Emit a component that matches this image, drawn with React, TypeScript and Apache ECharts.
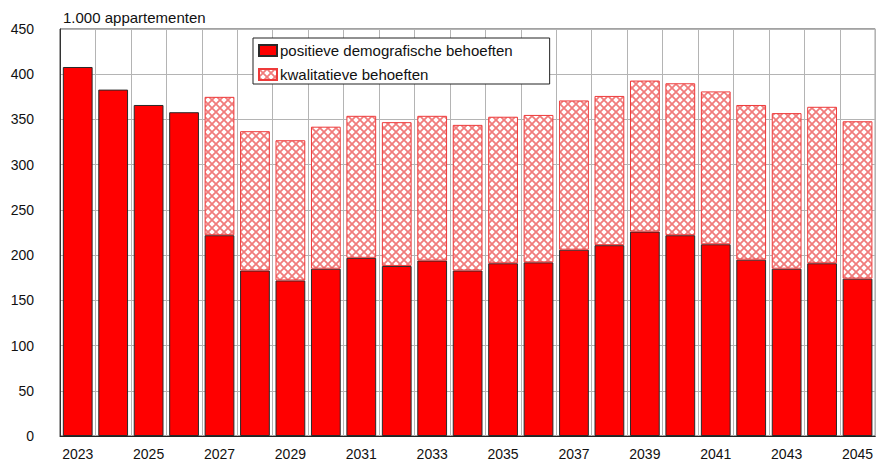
import React, { useEffect, useRef } from "react";
import * as echarts from "echarts";

const years = [
  "2023", "2024", "2025", "2026", "2027", "2028", "2029", "2030", "2031", "2032", "2033", "2034",
  "2035", "2036", "2037", "2038", "2039", "2040", "2041", "2042", "2043", "2044", "2045",
];

const positiveDemographic = [
  408, 383, 366, 358, 222, 183, 172, 185, 197, 188, 194, 183,
  191, 192, 206, 211, 226, 222, 212, 195, 185, 191, 174,
];

const qualitative: (number | string)[] = [
  "-", "-", "-", "-", 153, 154, 155, 157, 157, 159, 160, 161,
  162, 163, 165, 165, 167, 168, 169, 171, 172, 173, 174,
];

const yTicks = { min: 0, max: 450, interval: 50 };

const titleText = "1.000 appartementen";
const seriesNames = ["positieve demografische behoeften", "kwalitatieve behoeften"];

const FONT = "'Liberation Sans', Arial, Helvetica, sans-serif";

function makeHatch() {
  const size = 8;
  const c = document.createElement("canvas");
  c.width = size;
  c.height = size;
  const ctx = c.getContext("2d")!;
  ctx.fillStyle = "#ffffff";
  ctx.fillRect(0, 0, size, size);
  ctx.strokeStyle = "#f07c7c";
  ctx.lineWidth = 1.8;
  ctx.beginPath();
  ctx.moveTo(-1, -1);
  ctx.lineTo(size + 1, size + 1);
  ctx.moveTo(size + 1, -1);
  ctx.lineTo(-1, size + 1);
  ctx.stroke();
  return c;
}

export default function App() {
  const ref = useRef<HTMLDivElement>(null);

  useEffect(() => {
    if (!ref.current) return;
    const chart = echarts.init(ref.current, undefined, { renderer: "svg" });
    const hatch = makeHatch();
    const pattern: any = {
      image: hatch,
      repeat: "repeat",
      imageWidth: 8,
      imageHeight: 8,
    };

    chart.setOption({
      animation: false,
      backgroundColor: "#ffffff",
      textStyle: { fontFamily: FONT },
      title: {
        text: titleText,
        left: 63,
        top: 10,
        padding: 0,
        textStyle: { fontFamily: FONT, fontSize: 15, fontWeight: "normal", color: "#111" },
      },
      legend: {
        orient: "vertical",
        left: 253,
        top: 38,
        padding: [5, 37, 2, 5],
        itemGap: 9,
        itemWidth: 18,
        itemHeight: 11,
        icon: "rect",
        borderColor: "#222",
        borderWidth: 1,
        borderRadius: 0,
        backgroundColor: "#ffffff",
        textStyle: { fontFamily: FONT, fontSize: 15, color: "#111", padding: [0, 0, 0, -2] },
        data: seriesNames,
        selectedMode: false,
      },
      grid: {
        left: 60,
        top: 29,
        width: 820,
        height: 408,
        show: true,
        borderColor: "#444",
        borderWidth: 1,
        backgroundColor: "transparent",
      },
      xAxis: {
        type: "category",
        data: years,
        boundaryGap: true,
        axisTick: { show: false },
        axisLine: { show: true, lineStyle: { color: "#222", width: 1 } },
        axisLabel: {
          interval: 1,
          margin: 11,
          fontFamily: FONT,
          fontSize: 14,
          color: "#111",
        },
        splitLine: { show: true, interval: 0, lineStyle: { color: "#b4b4b4", width: 1 } },
      },
      yAxis: {
        type: "value",
        min: yTicks.min,
        max: yTicks.max,
        interval: yTicks.interval,
        axisTick: { show: false },
        axisLine: { show: true, lineStyle: { color: "#333", width: 1 } },
        axisLabel: { margin: 26, fontFamily: FONT, fontSize: 14, color: "#111" },
        splitLine: { show: true, lineStyle: { color: "#b4b4b4", width: 1 } },
      },
      series: [
        {
          name: seriesNames[0],
          type: "bar",
          stack: "total",
          barCategoryGap: "16%",
          data: positiveDemographic,
          itemStyle: { color: "#ff0000", borderColor: "#2a2a2a", borderWidth: 1 },
        },
        {
          name: seriesNames[1],
          type: "bar",
          stack: "total",
          barCategoryGap: "16%",
          data: qualitative,
          itemStyle: { color: pattern, borderColor: "#ee3a3a", borderWidth: 1 },
        },
      ],
    });

    return () => chart.dispose();
  }, []);

  return (
    <div
      ref={ref}
      style={{ position: "fixed", left: 0, top: 0, width: 876, height: 461, background: "#fff" }}
    />
  );
}
